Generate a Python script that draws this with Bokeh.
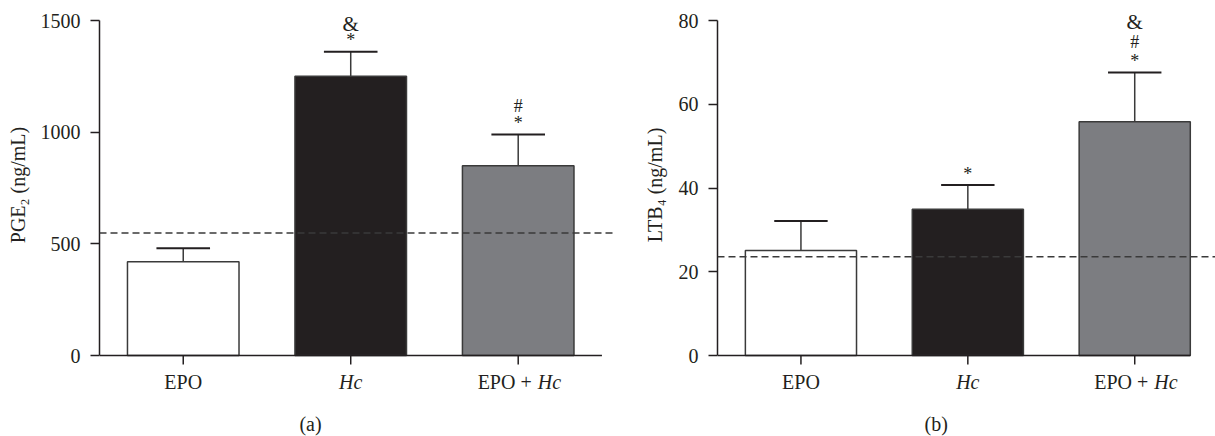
from bokeh.plotting import figure
from bokeh.layouts import row, column
from bokeh.models import Range1d, FixedTicker, Label, Span
from bokeh.core.properties import value
from bokeh.embed import file_html
from bokeh.resources import INLINE

# ---------------- data ----------------
groups = ["EPO", "Hc", "EPO + Hc"]
pge2_mean = [420, 1250, 850]
pge2_sem = [60, 110, 140]
pge2_ref = 548
pge2_marks = [[], ["*", "&"], ["*", "#"]]
pge2_ticks = [0, 500, 1000, 1500]

ltb4_mean = [25.1, 34.9, 55.8]
ltb4_sem = [7.0, 5.8, 11.8]
ltb4_ref = 23.6
ltb4_marks = [[], ["*"], ["*", "#", "&"]]
ltb4_ticks = [0, 20, 40, 60, 80]

# ---------------- style ----------------
FONT = "Liberation Serif"
INK = "#231f20"
bar_colors = ["#ffffff", "#231f20", "#7c7d81"]
BAR_W = 0.666
CAP_HALF = 0.16
FRAME_H = 335      # px between top tick and zero line
TOP_PAD = 20       # px above the top tick (room for marks)
BOT_PAD = 14       # px below the zero line (room for category ticks)
MAIN_H = TOP_PAD + FRAME_H + BOT_PAD
FOOT_H = 436 - MAIN_H
TICK_LEN = 9


def panel(means, sems, ref, marks, ticks, ylabel, caption, caption_x,
          width, min_left, min_right, x_end, axis_end, mark_offsets,
          label_standoff):
    xs = list(range(len(groups)))
    tops = [m + s for m, s in zip(means, sems)]
    ymax = ticks[-1]
    u = ymax / FRAME_H          # data units per pixel
    xr = Range1d(-0.5, x_end)
    p = figure(width=width, height=MAIN_H, output_backend="svg",
               toolbar_location=None, tools="",
               x_range=xr,
               y_range=Range1d(-BOT_PAD * u, ymax + TOP_PAD * u),
               min_border_left=min_left, min_border_right=min_right,
               min_border_top=0, min_border_bottom=0,
               x_axis_location=None)
    p.outline_line_color = None
    p.grid.visible = False

    p.vbar(x=xs, top=means, bottom=0, width=BAR_W, fill_color=bar_colors,
           line_color="#3a3a3a", line_width=1.5)
    p.segment(x0=xs, y0=means, x1=xs, y1=tops, line_color="#3a3a3a",
              line_width=1.5)
    p.segment(x0=[x - CAP_HALF for x in xs], y0=tops,
              x1=[x + CAP_HALF for x in xs], y1=tops,
              line_color=INK, line_width=2)

    p.add_layout(Span(location=ref, dimension="width", line_color="#3a3a3a",
                      line_width=1.5, line_dash="7 4"))

    # category axis: line and ticks
    p.segment(x0=[-0.5], y0=[0], x1=[axis_end], y1=[0], line_color=INK,
              line_width=1.5)
    p.segment(x0=xs, y0=[0] * len(xs), x1=xs,
              y1=[-TICK_LEN * u] * len(xs), line_color=INK, line_width=1.5)

    # value axis
    ax = p.yaxis[0]
    ax.ticker = FixedTicker(ticks=ticks)
    ax.bounds = (ticks[0], ymax)
    ax.axis_line_color = INK
    ax.axis_line_width = 1.5
    ax.major_tick_line_color = INK
    ax.major_tick_line_width = 1.5
    ax.major_tick_in = 0
    ax.major_tick_out = TICK_LEN
    ax.minor_tick_line_color = None
    ax.major_label_text_font = FONT
    ax.major_label_text_font_size = "20px"
    ax.major_label_text_color = INK
    ax.major_label_standoff = 10
    ax.axis_label = ylabel
    ax.axis_label_text_font = FONT
    ax.axis_label_text_font_size = "20px"
    ax.axis_label_text_font_style = "normal"
    ax.axis_label_text_color = INK
    ax.axis_label_standoff = label_standoff

    # significance marks
    for x, t, mk in zip(xs, tops, marks):
        for k, m in enumerate(mk):
            p.add_layout(Label(x=x, y=t, text=m, y_offset=mark_offsets[k],
                               text_align="center", text_baseline="middle",
                               text_font=FONT,
                               text_font_size="21px" if m == "&" else "18px",
                               text_color=INK))

    # footer: category labels and caption
    f = figure(width=width, height=FOOT_H, output_backend="svg",
               toolbar_location=None, tools="", x_range=xr,
               y_range=Range1d(FOOT_H, 0),
               min_border_left=min_left, min_border_right=min_right,
               min_border_top=0, min_border_bottom=0,
               x_axis_location=None, y_axis_location=None)
    f.outline_line_color = None
    f.grid.visible = False
    lab_y = 12.7
    common = dict(text_font=value(FONT), text_font_size="20px",
                  text_color=INK, text_baseline="middle")
    f.text(x=[0], y=[lab_y], text=[groups[0]], text_align="center", **common)
    f.text(x=[1], y=[lab_y], text=[groups[1]], text_align="center",
           text_font_style="italic", **common)
    f.text(x=[2], y=[lab_y], text=["EPO +"], text_align="right",
           x_offset=13.5, **common)
    f.text(x=[2], y=[lab_y], text=["Hc"], text_align="left",
           x_offset=19.5, text_font_style="italic", **common)
    f.text(x=[caption_x], y=[54], text=[caption], text_align="center",
           **common)
    return column(p, f)


pa = panel(pge2_mean, pge2_sem, pge2_ref, pge2_marks, pge2_ticks,
           "PGE\u2082 (ng/mL)", "(a)", 0.76,
           width=640, min_left=99, min_right=27, x_end=2.569, axis_end=2.5,
           mark_offsets=[11.5, 28], label_standoff=9)
pb = panel(ltb4_mean, ltb4_sem, ltb4_ref, ltb4_marks, ltb4_ticks,
           "LTB\u2084 (ng/mL)", "(b)", 0.81,
           width=575, min_left=76, min_right=0, x_end=2.484, axis_end=2.333,
           mark_offsets=[11, 30, 50], label_standoff=10)

layout = row(pa, pb)
open("out.html", "w").write(file_html(layout, INLINE))
